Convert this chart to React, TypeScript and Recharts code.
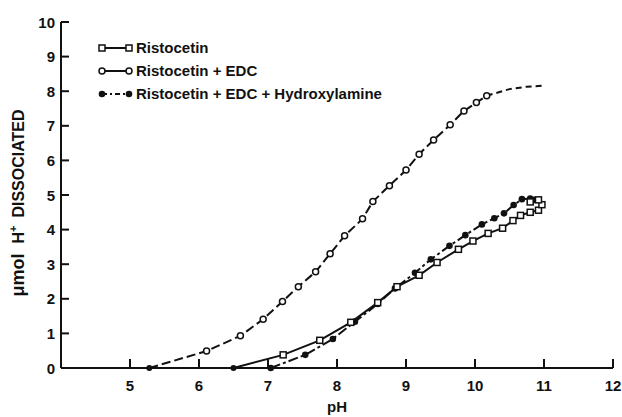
import React from "react";
import { LineChart, Line, XAxis, YAxis, Legend } from "recharts";

// pH vs µmol H+ dissociated
const ristocetinPH = [6.5, 7.22, 7.75, 8.2, 8.59, 8.87, 9.19, 9.45, 9.76, 9.97, 10.19, 10.4, 10.55, 10.66, 10.8, 10.92, 10.97, 10.92, 10.8];
const ristocetinH = [0, 0.38, 0.8, 1.32, 1.89, 2.35, 2.68, 3.05, 3.43, 3.67, 3.89, 4.04, 4.26, 4.41, 4.5, 4.56, 4.72, 4.86, 4.8];

const edcPH = [5.28, 6.11, 6.6, 6.93, 7.21, 7.44, 7.69, 7.9, 8.11, 8.37, 8.52, 8.76, 9.0, 9.19, 9.4, 9.64, 9.84, 10.02, 10.17];
const edcH = [0, 0.49, 0.93, 1.41, 1.92, 2.35, 2.78, 3.3, 3.82, 4.31, 4.81, 5.27, 5.72, 6.18, 6.59, 7.03, 7.43, 7.67, 7.87];
// dashed extension past the last measured point
const edcTailPH = [10.17, 10.5, 10.75, 11.0];
const edcTailH = [7.87, 8.06, 8.13, 8.16];

const hydPH = [7.04, 7.54, 7.94, 8.26, 8.59, 8.84, 9.13, 9.36, 9.63, 9.86, 10.1, 10.28, 10.42, 10.56, 10.68, 10.8, 10.86];
const hydH = [0, 0.38, 0.84, 1.34, 1.85, 2.3, 2.75, 3.14, 3.53, 3.84, 4.15, 4.33, 4.47, 4.71, 4.88, 4.9, 4.86];

const seriesNames = ["Ristocetin", "Ristocetin + EDC", "Ristocetin + EDC + Hydroxylamine"];
const xTicks = [5, 6, 7, 8, 9, 10, 11, 12];
const yTicks = [0, 1, 2, 3, 4, 5, 6, 7, 8, 9, 10];

const toRows = (xs: number[], ys: number[]) => xs.map((x, i) => ({ ph: x, h: ys[i] }));

const FONT = "'Liberation Sans', Arial, Helvetica, sans-serif";
const INK = "#111";

const EDC_DASH = "9 4";
const HYD_DASH = "10 3 3 3";

const startDot = (cx: number, cy: number, key: string) => (
  <circle key={key} cx={cx} cy={cy} r={3} fill={INK} />
);

const squareDot = (p: any) => {
  const { cx, cy, index } = p;
  if (index === 0) return startDot(cx, cy, `s-${index}`);
  return (
    <rect key={`s-${index}`} x={cx - 3} y={cy - 3} width={6} height={6} fill="#fff" stroke={INK} strokeWidth={1.5} />
  );
};

const circleDot = (p: any) => {
  const { cx, cy, index } = p;
  if (index === 0) return startDot(cx, cy, `c-${index}`);
  return <circle key={`c-${index}`} cx={cx} cy={cy} r={3} fill="#fff" stroke={INK} strokeWidth={1.5} />;
};

const filledDot = (p: any) => {
  const { cx, cy, index } = p;
  return <circle key={`f-${index}`} cx={cx} cy={cy} r={3.3} fill={INK} />;
};

// tickSize/tickMargin are 0, so x/y sit on the axis line; marks point inward
const XTick = (props: any) => {
  const { x, y, payload } = props;
  return (
    <g>
      <line x1={x} y1={y} x2={x} y2={y - 9} stroke={INK} strokeWidth={2} />
      <text x={x} y={y + 23} textAnchor="middle" fontFamily={FONT} fontWeight="bold" fontSize={15} fill={INK}>
        {payload.value}
      </text>
    </g>
  );
};

const YTick = (props: any) => {
  const { x, y, payload } = props;
  return (
    <g>
      <line x1={x} y1={y} x2={x + 8} y2={y} stroke={INK} strokeWidth={2} />
      <text x={x - 6} y={y + 5.5} textAnchor="end" fontFamily={FONT} fontWeight="bold" fontSize={15} fill={INK}>
        {payload.value}
      </text>
    </g>
  );
};

const YLabel = () => (
  <text
    x={24}
    y={203}
    transform="rotate(-90, 24, 203)"
    textAnchor="middle"
    fontFamily={FONT}
    fontWeight="bold"
    fontSize={16}
    fill={INK}
  >
    <tspan fontSize={18}>μmol</tspan>
    <tspan dx={10}>H</tspan>
    <tspan dy={-7} fontSize={11}>+</tspan>
    <tspan dy={7} dx={8}>DISSOCIATED</tspan>
  </text>
);

const XLabel = () => (
  <text x={337} y={412} textAnchor="middle" fontFamily={FONT} fontWeight="bold" fontSize={15} fill={INK}>
    pH
  </text>
);

const LegendSymbol = ({ kind }: { kind: number }) => (
  <svg width={40} height={14} style={{ display: "block", flex: "none" }}>
    <line x1={6} y1={7} x2={33} y2={7} stroke={INK} strokeWidth={2} strokeDasharray={kind === 2 ? "5 3 2 3" : undefined} />
    {[6, 33].map((cx) =>
      kind === 0 ? (
        <rect key={cx} x={cx - 3} y={4} width={6} height={6} fill="#fff" stroke={INK} strokeWidth={1.5} />
      ) : kind === 1 ? (
        <circle key={cx} cx={cx} cy={7} r={3} fill="#fff" stroke={INK} strokeWidth={1.5} />
      ) : (
        <circle key={cx} cx={cx} cy={7} r={3.3} fill={INK} />
      )
    )}
  </svg>
);

const LegendBox = () => (
  <div style={{ fontFamily: FONT, fontWeight: "bold", fontSize: 15, color: INK }}>
    {seriesNames.map((name, i) => (
      <div key={name} style={{ display: "flex", alignItems: "center", height: 23, whiteSpace: "nowrap" }}>
        <LegendSymbol kind={i} />
        <span>{name}</span>
      </div>
    ))}
  </div>
);

export default function App() {
  return (
    <div style={{ position: "absolute", left: 0, top: 0, width: 622, height: 417, background: "#fff" }}>
      <LineChart width={622} height={417} margin={{ top: 22, right: 9, left: 0, bottom: 48 }}>
        <XAxis
          type="number"
          dataKey="ph"
          domain={[4, 12]}
          ticks={xTicks}
          height={1}
          tickSize={0}
          tickMargin={0}
          tickLine={false}
          tick={<XTick />}
          axisLine={{ stroke: INK, strokeWidth: 2 }}
          allowDataOverflow
          label={<XLabel />}
        />
        <YAxis
          type="number"
          dataKey="h"
          domain={[0, 10]}
          ticks={yTicks}
          width={61}
          tickSize={0}
          tickMargin={0}
          tickLine={false}
          tick={<YTick />}
          axisLine={{ stroke: INK, strokeWidth: 2 }}
          label={<YLabel />}
        />
        <Legend
          layout="vertical"
          align="center"
          verticalAlign="middle"
          wrapperStyle={{ position: "absolute", left: 96, top: 36, width: "auto" }}
          content={() => <LegendBox />}
        />
        <Line
          data={toRows(edcPH, edcH)}
          dataKey="h"
          name={seriesNames[1]}
          type="linear"
          stroke={INK}
          strokeWidth={2}
          strokeDasharray={EDC_DASH}
          dot={circleDot}
          isAnimationActive={false}
        />
        <Line
          data={toRows(edcTailPH, edcTailH)}
          dataKey="h"
          legendType="none"
          type="linear"
          stroke={INK}
          strokeWidth={2}
          strokeDasharray="6 4"
          dot={false}
          isAnimationActive={false}
        />
        <Line
          data={toRows(hydPH, hydH)}
          dataKey="h"
          name={seriesNames[2]}
          type="linear"
          stroke={INK}
          strokeWidth={2}
          strokeDasharray={HYD_DASH}
          dot={filledDot}
          isAnimationActive={false}
        />
        <Line
          data={toRows(ristocetinPH, ristocetinH)}
          dataKey="h"
          name={seriesNames[0]}
          type="linear"
          stroke={INK}
          strokeWidth={2}
          dot={squareDot}
          isAnimationActive={false}
        />
      </LineChart>
    </div>
  );
}
